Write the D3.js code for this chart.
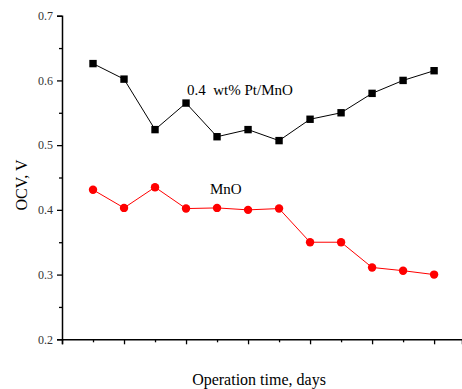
<!DOCTYPE html>
<html>
<head>
<meta charset="utf-8">
<script src="https://cdn.jsdelivr.net/npm/d3@7"></script>
<style>
  body { margin: 0; background: #fff; }
  text { font-family: "Liberation Serif", "Times New Roman", serif; }
</style>
</head>
<body>
<script>
// operation days (1..12), x axis has no tick labels
var days = [1, 2, 3, 4, 5, 6, 7, 8, 9, 10, 11, 12];
var ptMnO = [0.626, 0.602, 0.524, 0.565, 0.513, 0.524, 0.507, 0.540, 0.550, 0.580, 0.600, 0.615];
var mnO = [0.431, 0.403, 0.435, 0.402, 0.403, 0.400, 0.402, 0.350, 0.350, 0.311, 0.306, 0.300];
var yTicks = [0.2, 0.3, 0.4, 0.5, 0.6, 0.7];

var width = 462, height = 389;
var margin = {top: 15.7, right: 0, bottom: 49.7, left: 62};

var svg = d3.select("body").append("svg")
    .attr("width", width)
    .attr("height", height);

var x = d3.scaleLinear()
    .domain([0, 12.9])
    .range([margin.left, width - margin.right]);

var y = d3.scaleLinear()
    .domain([0.2, 0.7])
    .range([height - margin.bottom, margin.top]);

// y axis
var yAxis = svg.append("g")
    .attr("transform", "translate(" + margin.left + ",0)")
    .call(d3.axisLeft(y).tickValues(yTicks).tickSize(5).tickPadding(4).tickFormat(d3.format(".1f")));
svg.append("g")
    .attr("transform", "translate(" + margin.left + ",0)")
    .call(d3.axisLeft(y).tickValues([0.25, 0.35, 0.45, 0.55, 0.65]).tickSize(3).tickFormat(""))
    .select(".domain").remove();

// x axis
var xAxis = svg.append("g")
    .attr("transform", "translate(0," + (height - margin.bottom) + ")")
    .call(d3.axisBottom(x).tickValues([0, 2, 4, 6, 8, 10, 12]).tickSize(5).tickFormat(""));
svg.append("g")
    .attr("transform", "translate(0," + (height - margin.bottom) + ")")
    .call(d3.axisBottom(x).tickValues([1, 3, 5, 7, 9, 11]).tickSize(3).tickFormat(""))
    .select(".domain").remove();

svg.selectAll(".domain").attr("stroke-width", 1.5);
svg.selectAll(".tick line").attr("stroke-width", 1.3);
yAxis.selectAll("text")
    .attr("font-size", 12)
    .attr("fill", "#333")
    .style("font-family", "Liberation Serif, serif");

var line = d3.line()
    .x(function(d, i) { return x(days[i]); })
    .y(function(d) { return y(d); });

// Pt/MnO series
svg.append("path")
    .datum(ptMnO)
    .attr("fill", "none")
    .attr("stroke", "#000")
    .attr("stroke-width", 1)
    .attr("d", line);
svg.append("g").selectAll("rect")
    .data(ptMnO)
    .enter().append("rect")
      .attr("x", function(d, i) { return x(days[i]) - 3.7; })
      .attr("y", function(d) { return y(d) - 3.7; })
      .attr("width", 7.4)
      .attr("height", 7.4)
      .attr("fill", "#000");

// MnO series
svg.append("path")
    .datum(mnO)
    .attr("fill", "none")
    .attr("stroke", "#ff0000")
    .attr("stroke-width", 1)
    .attr("d", line);
svg.append("g").selectAll("circle")
    .data(mnO)
    .enter().append("circle")
      .attr("cx", function(d, i) { return x(days[i]); })
      .attr("cy", function(d) { return y(d); })
      .attr("r", 4.2)
      .attr("fill", "#ff0000");

// series labels
svg.append("text")
    .attr("x", 187).attr("y", 94.5)
    .attr("font-size", 15)
    .attr("xml:space", "preserve")
    .style("white-space", "pre")
    .text("0.4  wt% Pt/MnO");
svg.append("text")
    .attr("x", 210).attr("y", 194)
    .attr("font-size", 15)
    .text("MnO");

// axis titles
svg.append("text")
    .attr("transform", "translate(27," + 185 + ") rotate(-90)")
    .attr("text-anchor", "middle")
    .attr("font-size", 16)
    .text("OCV, V");
svg.append("text")
    .attr("x", 259).attr("y", 385)
    .attr("text-anchor", "middle")
    .attr("font-size", 16)
    .text("Operation time, days");
</script>
</body>
</html>
